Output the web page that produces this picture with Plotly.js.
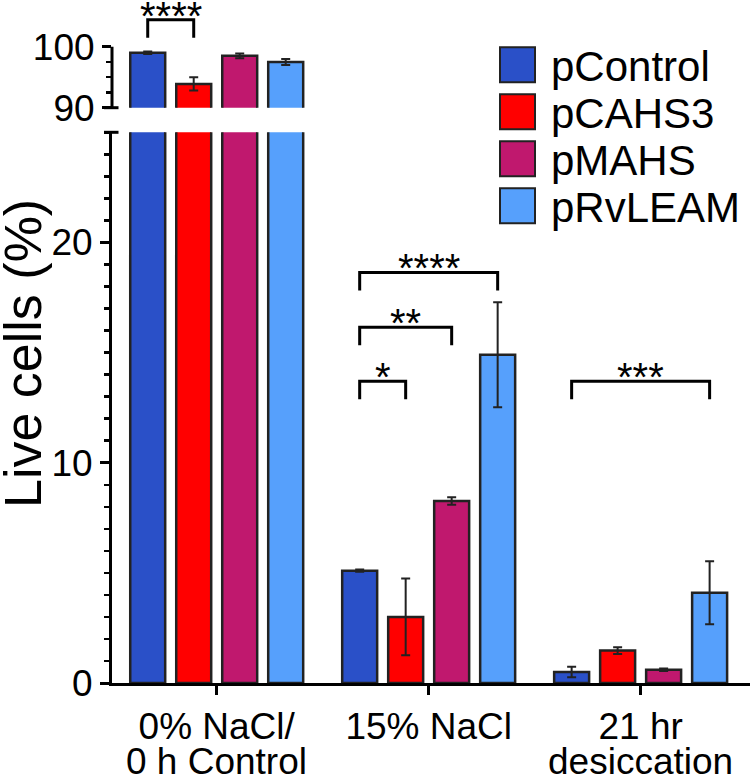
<!DOCTYPE html>
<html>
<head>
<meta charset="utf-8">
<script src="https://cdn.plot.ly/plotly-3.0.1.min.js"></script>
<style>html, body { margin: 0; padding: 0; background: #fff; }</style>
</head>
<body>
<div id="chart" style="width:750px;height:782px"></div>
<script>
// data (Live cells, %)
const categories = ['0% NaCl/', '15% NaCl', '21 hr'];
const categoriesLine2 = ['0 h Control', '', 'desiccation'];
const seriesNames = ['pControl', 'pCAHS3', 'pMAHS', 'pRvLEAM'];

const pControl = [99.0, 5.1, 0.5];
const pControlErr = [0.2, 0.05, 0.24];
const pCAHS3 = [93.9, 3.0, 1.47];
const pCAHS3Err = [1.1, 1.74, 0.15];
const pMAHS = [98.5, 8.26, 0.6];
const pMAHSErr = [0.4, 0.17, 0.06];
const pRvLEAM = [97.5, 14.9, 4.1];
const pRvLEAMErr = [0.5, 2.38, 1.43];

// significance: group index, from series, to series, label
const sigGroup = [0, 1, 1, 1, 2];
const sigFrom = [0, 0, 0, 0, 0];
const sigTo = [1, 3, 2, 1, 3];
const sigLabel = ['****', '****', '**', '*', '***'];

const values = [pControl, pCAHS3, pMAHS, pRvLEAM];
const errors = [pControlErr, pCAHS3Err, pMAHSErr, pRvLEAMErr];
const colors = ['#2a50c8', '#ff0000', '#c0186e', '#56a0fc'];

// layout geometry (pixels)
const W = 750, H = 782;
const M = { l: 112, r: 0, t: 0, b: 99 };
const plotW = W - M.l - M.r;
const plotH = H - M.t - M.b;
const px = (p) => (p - M.l) / plotW;
const py = (p) => (plotH + M.t - p) / plotH;

const lowDomain = [0, py(132.3)];
const highDomain = [py(107.7), py(16.2)];
const lowRange = [0, 25];
const highRange = [90, 105];

const pitch = 0.217;
const barW = 0.165;
const offsetOf = (k) => (k - 1.5) * pitch;

const font = 'Liberation Sans, Arial, sans-serif';
const ink = '#222';

const traces = [];
['y', 'y2'].forEach((yax) => {
    values.forEach((vals, k) => {
        traces.push({
            type: 'bar',
            x: categories.map((c, i) => i),
            y: vals,
            width: barW,
            offset: offsetOf(k) - barW / 2,
            yaxis: yax,
            name: seriesNames[k],
            showlegend: false,
            marker: { color: colors[k], line: { color: ink, width: 2.5 } },
            error_y: {
                type: 'data', array: errors[k], visible: true,
                color: ink, thickness: 2, width: 4.5,
            },
            hoverinfo: 'skip',
        });
    });
});

const shapes = [];
const annotations = [];

// top segment axis line (90..100) and break caps
shapes.push({ type: 'line', xref: 'paper', yref: 'y2', x0: 0, x1: 0, y0: 90, y1: 100,
    line: { color: '#000', width: 3 } });
[highDomain[0], lowDomain[1]].forEach((yy) => {
    shapes.push({ type: 'line', xref: 'paper', yref: 'paper', x0: px(104), x1: px(118.5), y0: yy, y1: yy,
        line: { color: '#000', width: 3 } });
});

// brackets
const bracketY = [104.4, 18.64, 16.15, 13.7, 13.7];
sigLabel.forEach((lab, n) => {
    const onTop = sigGroup[n] === 0;
    const yax = onTop ? 'y2' : 'y';
    const drop = onTop ? 2.95 : 0.82;
    const xa = sigGroup[n] + offsetOf(sigFrom[n]);
    const xb = sigGroup[n] + offsetOf(sigTo[n]);
    const yb = bracketY[n];
    shapes.push({
        type: 'path', xref: 'x', yref: yax,
        path: `M ${xa},${yb - drop} L ${xa},${yb} L ${xb},${yb} L ${xb},${yb - drop}`,
        line: { color: '#000', width: 3 },
    });
    annotations.push({
        xref: 'x', yref: yax, x: (xa + xb) / 2, y: yb, text: lab, showarrow: false,
        xanchor: 'center', yanchor: 'bottom', yshift: -20,
        font: { family: font, size: 40, color: '#000' },
    });
});

// second line of category labels
categoriesLine2.forEach((t, i) => {
    if (!t) return;
    annotations.push({
        xref: 'x', yref: 'paper', x: i, y: 0, text: t, showarrow: false,
        xanchor: 'center', yanchor: 'top', yshift: -56,
        font: { family: font, size: 37, color: '#000' },
    });
});

// y title
annotations.push({
    xref: 'paper', yref: 'paper', x: px(23), y: py(354), text: 'Live cells (%)',
    textangle: -90, showarrow: false, xanchor: 'center', yanchor: 'middle',
    font: { family: font, size: 52, color: '#000' },
});

// legend
seriesNames.forEach((name, k) => {
    const top = 47.3 + k * 47;
    shapes.push({
        type: 'rect', xref: 'paper', yref: 'paper',
        x0: px(500), x1: px(535), y0: py(top), y1: py(top + 35),
        fillcolor: colors[k], line: { color: ink, width: 2 },
    });
    annotations.push({
        xref: 'paper', yref: 'paper', x: px(549), y: py(top + 19.5), text: name,
        showarrow: false, xanchor: 'left', yanchor: 'middle',
        font: { family: font, size: 42, color: '#000' },
    });
});

const tickStyle = {
    ticks: 'outside', ticklen: 9, tickwidth: 3, tickcolor: '#000',
    showgrid: false, zeroline: false,
    tickfont: { family: font, size: 37, color: '#000' },
};

const layout = {
    width: W, height: H,
    margin: { l: M.l, r: M.r, t: M.t, b: M.b, pad: 0 },
    paper_bgcolor: '#fff', plot_bgcolor: '#fff',
    barmode: 'overlay',
    showlegend: false,
    xaxis: Object.assign({}, tickStyle, {
        range: [-0.494, 2.516], anchor: 'y',
        showline: true, linewidth: 3, linecolor: '#000',
        tickmode: 'array', tickvals: [0, 1, 2], ticktext: categories,
    }),
    yaxis: Object.assign({}, tickStyle, {
        domain: lowDomain, range: lowRange, anchor: 'x',
        showline: true, linewidth: 3, linecolor: '#000',
        tickmode: 'linear', tick0: 0, dtick: 10,
        minor: { dtick: 1, ticklen: 5, tickwidth: 2.5, ticks: 'outside', tickcolor: '#000' },
    }),
    yaxis2: Object.assign({}, tickStyle, {
        domain: highDomain, range: highRange, anchor: 'x',
        showline: false,
        tickmode: 'array', tickvals: [90, 100],
        minor: { tickmode: 'array', tickvals: [92.5, 95, 97.5], ticklen: 5, tickwidth: 2.5,
            ticks: 'outside', tickcolor: '#000' },
    }),
    shapes,
    annotations,
};

Plotly.newPlot('chart', traces, layout, { staticPlot: true });
</script>
</body>
</html>
